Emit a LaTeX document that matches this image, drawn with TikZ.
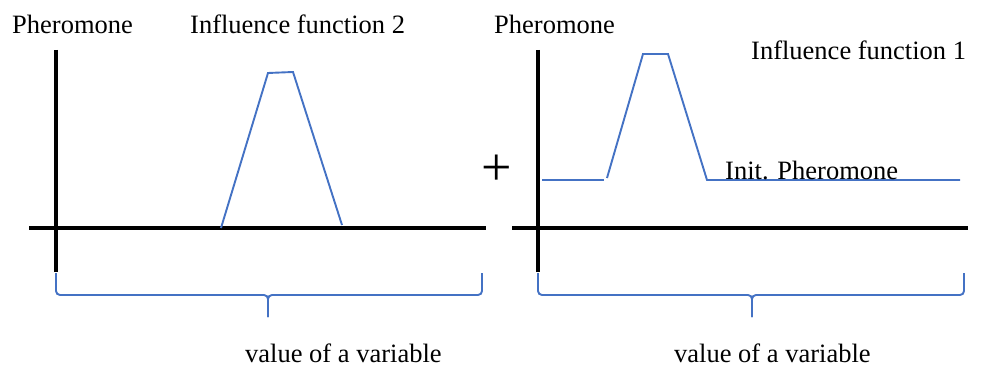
\documentclass[tikz,border=0pt]{standalone}
\usepackage{fontspec}
\setmainfont{Liberation Serif}
\usetikzlibrary{positioning}
\definecolor{curveblue}{RGB}{68,114,196}

\begin{document}
\begin{tikzpicture}[
  x=1pt, y=-1pt,
  axis/.style={line width=3.6pt, black},
  curve/.style={line width=1.9pt, curveblue},
  brace/.style={line width=1.9pt, curveblue, rounded corners=4pt},
  lbl/.style={font=\fontsize{26.5}{30}\selectfont, inner sep=0pt, anchor=base west},
]
  \useasboundingbox (0,0) rectangle (981,366);

  % left panel: influence function 2
  \coordinate (yL) at (56,50);
  \coordinate (oL) at (56,272);
  \coordinate (xL0) at (29,228);
  \coordinate (xL1) at (486,228);
  \draw[axis] (yL) -- (oL);
  \draw[axis] (xL0) -- (xL1);
  \draw[curve] (221,228) -- (268,73) -- (293,72) -- (342,225);

  \node[lbl] (phL) at (12,34) {Pheromone};
  \node[lbl] (infL) at (190,34) {Influence function 2};

  \draw[brace] (56,273) |- (268,295) -- (268,317);
  \draw[brace] (482,273) |- (268,295) -- (268,317);
  \node[lbl] (valL) at (245,362) {value of a variable};

  \node[font=\fontsize{54}{60}\selectfont, inner sep=0pt] (plus) at (497,170) {+};

  % right panel: influence function 1 on top of the initial pheromone
  \coordinate (yR) at (538,50);
  \coordinate (oR) at (538,272);
  \coordinate (xR0) at (512,228);
  \coordinate (xR1) at (968,228);
  \draw[axis] (yR) -- (oR);
  \draw[axis] (xR0) -- (xR1);
  \draw[curve] (542,180) -- (604,180);
  \draw[curve] (607,178) -- (643,54) -- (668,54) -- (707,180) -- (960,180);

  \node[lbl] (phR) at (494,34) {Pheromone};
  \node[lbl] (infR) at (751,60) {Influence function 1};
  \node[lbl] (init) at (725,179) {Init. Pheromone};

  \draw[brace] (538,273) |- (752,295) -- (752,317);
  \draw[brace] (964,273) |- (752,295) -- (752,317);
  \node[lbl] (valR) at (674,362) {value of a variable};
\end{tikzpicture}
\end{document}
